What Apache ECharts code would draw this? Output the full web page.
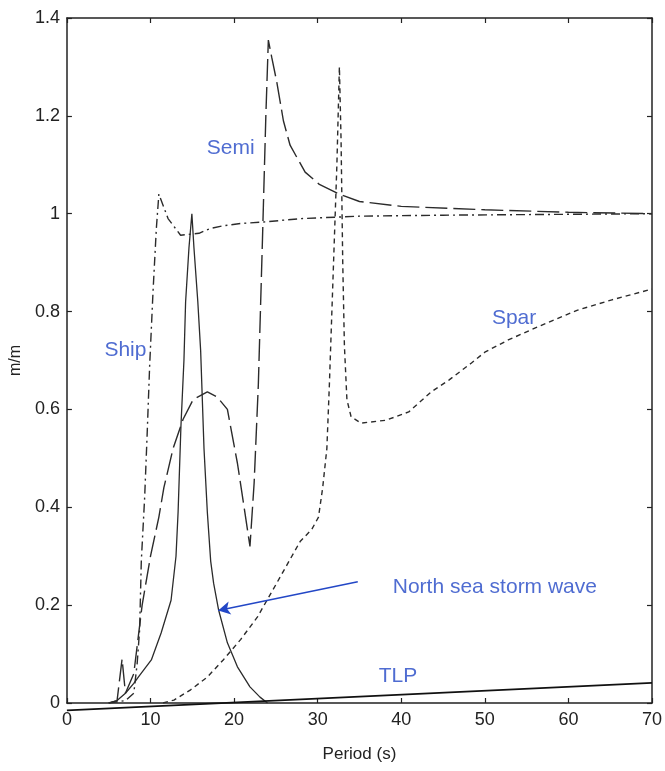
<!DOCTYPE html>
<html>
<head>
<meta charset="utf-8">
<script src="https://cdn.jsdelivr.net/npm/echarts@6/dist/echarts.min.js"></script>
<style>
html,body{margin:0;padding:0;background:#fff;}
#c{width:665px;height:771px;}
</style>
</head>
<body>
<div id="c"></div>
<script>
// ---- data (period s, response m/m) ----
const xTicks = [0, 10, 20, 30, 40, 50, 60, 70];
const yTicks = [0, 0.2, 0.4, 0.6, 0.8, 1, 1.2, 1.4];

const shipData = [[5,0],[7,0.005],[8,0.02],[8.4,0.08],[8.7,0.15],[8.9,0.29],[9.3,0.42],[9.6,0.55],[9.9,0.69],[10.3,0.84],[10.7,0.97],[11,1.04],[12.1,0.99],[13.6,0.956],[15.8,0.96],[17.2,0.97],[18.6,0.975],[20.8,0.98],[23.5,0.983],[28,0.99],[35,0.995],[45,0.997],[70,1.0]];

const semiData = [[5,0],[6,0.005],[6.6,0.09],[7.0,0.02],[8,0.06],[9,0.2],[10,0.3],[11,0.38],[11.6,0.44],[12.7,0.52],[13.9,0.58],[15.1,0.62],[16.8,0.636],[18,0.625],[19.2,0.60],[20.4,0.49],[21.2,0.4],[21.9,0.32],[22.4,0.45],[22.9,0.65],[23.4,0.95],[23.8,1.2],[24.1,1.355],[24.5,1.32],[25.1,1.27],[25.9,1.19],[26.7,1.14],[28.5,1.085],[30.2,1.06],[32.6,1.04],[35,1.025],[40,1.015],[50,1.008],[60,1.003],[70,1.0]];

const sparData = [[11.5,0],[12.8,0.006],[14.8,0.027],[16.8,0.053],[18.7,0.088],[20.8,0.13],[22.8,0.176],[25.1,0.245],[27.9,0.33],[29.3,0.355],[30.1,0.38],[30.6,0.44],[31.1,0.52],[31.4,0.65],[31.7,0.8],[32.0,0.95],[32.3,1.1],[32.6,1.3],[32.8,1.15],[33,0.9],[33.2,0.73],[33.5,0.62],[34,0.585],[35.2,0.572],[38.2,0.578],[40.9,0.595],[43.6,0.636],[45.7,0.66],[48.4,0.695],[50,0.717],[52.8,0.742],[56.9,0.773],[61.1,0.803],[65.2,0.824],[70,0.846]];

const waveData = [[5,0],[6,0.005],[7,0.02],[8,0.04],[8.54,0.053],[10.1,0.088],[11.27,0.143],[12.46,0.21],[13.05,0.3],[13.3,0.39],[13.64,0.565],[14.0,0.70],[14.2,0.82],[14.6,0.93],[14.95,1.0],[15.2,0.93],[15.66,0.82],[16.0,0.72],[16.4,0.52],[16.8,0.39],[17.2,0.29],[17.55,0.245],[18.15,0.19],[19.2,0.123],[20.4,0.074],[21.9,0.033],[23.1,0.012],[24,0]];

const tlpData = [[0,-0.015],[70,0.041]];

const labelTexts = ['Semi', 'Ship', 'Spar', 'North sea storm wave', 'TLP'];
const labelPos = [[19.6,1.134],[7.0,0.721],[53.5,0.787],[51.2,0.237],[39.6,0.055]];
const arrowFrom = [34.8, 0.248];
const arrowTo = [18.1, 0.189];

const lineColor = '#2b2b2b';
const blue = '#2347c6';
const tickFont = "'Liberation Sans Narrow','Liberation Sans',Arial,sans-serif";

const chart = echarts.init(document.getElementById('c'), null, {renderer:'canvas'});

const baseX = {
  type:'value', min:0, max:70, interval:10,
  axisLine:{show:true, onZero:false, lineStyle:{color:'#222', width:1.5}},
  axisTick:{show:true, inside:true, length:5, lineStyle:{color:'#222', width:1.2}},
  splitLine:{show:false}
};
const baseY = {
  type:'value', min:0, max:1.4, interval:0.2,
  axisLine:{show:true, onZero:false, lineStyle:{color:'#222', width:1.5}},
  axisTick:{show:true, inside:true, length:5, lineStyle:{color:'#222', width:1.2}},
  splitLine:{show:false}
};

chart.setOption({
  backgroundColor:'#ffffff',
  animation:false,
  grid:{left:65, right:10, top:18, bottom:68, containLabel:false},
  xAxis:[
    Object.assign({}, baseX, {
      position:'bottom',
      name:'Period (s)', nameLocation:'middle', nameGap:43,
      nameTextStyle:{fontFamily:tickFont, fontSize:17, color:'#222'},
      axisLabel:{show:true, margin:8, fontFamily:tickFont, fontSize:18, color:'#222',
        formatter:v => xTicks.includes(v) ? String(v) : ''}
    }),
    Object.assign({}, baseX, {position:'top', axisLabel:{show:false}})
  ],
  yAxis:[
    Object.assign({}, baseY, {
      position:'left',
      name:'m/m', nameLocation:'middle', nameGap:40,
      nameTextStyle:{fontFamily:tickFont, fontSize:16, color:'#222'},
      axisLabel:{show:true, margin:7, fontFamily:tickFont, fontSize:18, color:'#222',
        formatter:v => { const t = yTicks.find(k => Math.abs(k - v) < 1e-9); return t === undefined ? '' : String(t); }}
    }),
    Object.assign({}, baseY, {position:'right', axisLabel:{show:false}})
  ],
  series:[
    {name:'Ship', type:'line', data:shipData, showSymbol:false, symbol:'none',
      lineStyle:{color:lineColor, width:1.4, type:[9,4,2,4]}},
    {name:'Semi', type:'line', data:semiData, showSymbol:false, symbol:'none',
      lineStyle:{color:lineColor, width:1.4, type:[22,6]}},
    {name:'Spar', type:'line', data:sparData, showSymbol:false, symbol:'none',
      lineStyle:{color:lineColor, width:1.4, type:[5,4]}},
    {name:'North sea storm wave', type:'line', data:waveData, showSymbol:false, symbol:'none',
      lineStyle:{color:lineColor, width:1.3, type:'solid'},
      markLine:{
        silent:true, symbol:['none','arrow'], symbolSize:[10,12],
        lineStyle:{color:blue, width:1.5, type:'solid'},
        label:{show:false},
        data:[[{coord:arrowFrom}, {coord:arrowTo}]]
      }},
    {name:'TLP', type:'line', data:tlpData, showSymbol:false, symbol:'none', clip:false,
      lineStyle:{color:'#111', width:1.8, type:'solid'}},
    {name:'labels', type:'scatter', symbolSize:0, silent:true,
      data:labelPos.map((p,i) => ({value:p, name:labelTexts[i]})),
      label:{show:true, position:'inside', formatter:p => p.name,
        fontFamily:"'Liberation Sans',Arial,sans-serif", fontSize:21, color:blue}}
  ]
});
</script>
</body>
</html>
